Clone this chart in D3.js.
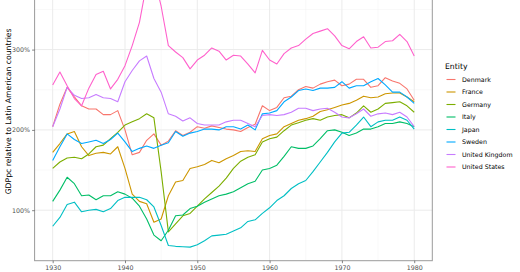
<!DOCTYPE html>
<html>
<head>
<meta charset="utf-8">
<script src="https://cdn.jsdelivr.net/npm/d3@7"></script>
<style>
  body { margin: 0; background: #fff; }
  svg { display: block; font-family: "DejaVu Sans", sans-serif; }
</style>
</head>
<body>
<div id="chart"></div>
<script>
var years = d3.range(1930, 1981);

var entities = ["Denmark", "France", "Germany", "Italy", "Japan", "Sweden", "United Kingdom", "United States"];
var colors = ["#F8766D", "#CD9600", "#7CAE00", "#00BE67", "#00BFC4", "#00A9FF", "#C77CFF", "#FF61CC"];

// GDP per capita relative to Latin America, % (1930..1980)
var denmark = [204, 232, 253, 241, 230, 226, 226, 219, 219, 224, 200, 169, 172, 187, 195, 181, 186, 199, 193, 197,
  204, 202, 205, 203, 201, 200, 198, 203, 207, 230, 224, 228, 240, 242, 250, 254, 252, 257, 260, 262,
  255, 257, 263, 263, 253, 255, 265, 261, 258, 251, 237];
var france = [172, 183, 195, 198, 179, 168, 171, 172, 170, 179, 152, 120, 111, 108, 85, 89, 118, 135, 137, 152,
  154, 157, 162, 159, 164, 168, 173, 174, 173, 189, 193, 195, 204, 208, 212, 214, 217, 223, 225, 228,
  231, 233, 237, 242, 240, 241, 245, 246, 246, 241, 235];
var germany = [152, 160, 165, 166, 164, 170, 179, 181, 189, 197, 206, 210, 214, 220, 215, 148, 73, 83, 93, 96,
  105, 114, 122, 130, 140, 152, 161, 166, 169, 185, 189, 191, 199, 206, 209, 212, 214, 212, 216, 218,
  219, 215, 221, 230, 222, 226, 233, 234, 235, 230, 222];
var italy = [111, 125, 141, 133, 118, 119, 113, 118, 118, 123, 120, 115, 105, 89, 69, 62, 75, 93, 94, 102,
  105, 110, 114, 118, 120, 123, 128, 133, 136, 150, 152, 156, 167, 179, 177, 177, 180, 189, 199, 200,
  197, 193, 196, 201, 201, 204, 208, 208, 210, 208, 204];
var japan = [80, 91, 107, 110, 98, 100, 101, 98, 102, 112, 116, 116, 116, 113, 104, 81, 56, 55, 54.5, 54,
  57, 62, 68, 69, 70, 74, 78, 86, 88, 96, 103, 112, 118, 127, 133, 137, 148, 160, 172, 185,
  196, 197, 206, 216, 204, 210, 212, 212, 216, 212, 201];
var sweden = [162, 179, 195, 188, 183, 185, 187, 183, 188, 196, 185, 173, 177, 180, 177, 181, 184, 198, 192, 196,
  198, 201, 201, 200, 204, 204, 201, 206, 200, 220, 221, 224, 235, 241, 249, 251, 249, 252, 252, 253,
  260, 252, 255, 255, 260, 264, 256, 247, 247, 241, 233];
var uk = [204, 226, 253, 243, 239, 240, 244, 240, 239, 235, 260, 274, 286, 292, 264, 247, 220, 217, 211, 215,
  208, 206, 206, 206, 210, 212, 212, 208, 204, 218, 219, 218, 219, 222, 227, 227, 224, 226, 227, 222,
  216, 215, 220, 226, 217, 220, 221, 219, 222, 216, 204];
var us = [256, 272, 255, 239, 230, 252, 269, 273, 251, 263, 280, 305, 334, 382, 392, 354, 305, 297, 290, 276,
  287, 293, 302, 298, 287, 293, 292, 282, 271, 299, 287, 282, 295, 302, 305, 313, 320, 323, 326, 317,
  305, 301, 310, 316, 302, 303, 310, 311, 319, 310, 292];

var seriesValues = [denmark, france, germany, italy, japan, sweden, uk, us];

var xTicks = [1930, 1940, 1950, 1960, 1970, 1980];
var xMinor = [1935, 1945, 1955, 1965, 1975];
var yTicks = [100, 200, 300];
var yMinor = [150, 250, 350];

var width = 520, height = 272;
var panel = {left: 34.6, right: 432.3, bottom: 260.7};
var pxPerPct = 0.803;

var series = entities.map(function(name, i) {
  return {name: name, color: colors[i], values: years.map(function(y, j) { return {year: y, value: seriesValues[i][j]}; })};
});

var all = d3.merge(seriesValues);
var lo = d3.min(all), hi = d3.max(all);
var pad = (hi - lo) * 0.05;
lo -= pad; hi += pad;
panel.top = panel.bottom - (hi - lo) * pxPerPct;

var x = d3.scaleLinear()
  .domain([1930 - 2.5, 1980 + 2.5])
  .range([panel.left, panel.right]);

var y = d3.scaleLinear()
  .domain([lo, hi])
  .range([panel.bottom, panel.top]);

var svg = d3.select("#chart").append("svg")
  .attr("width", width)
  .attr("height", height);

svg.append("defs").append("clipPath").attr("id", "clip")
  .append("rect")
  .attr("x", panel.left).attr("y", panel.top)
  .attr("width", panel.right - panel.left).attr("height", panel.bottom - panel.top);

var grid = svg.append("g");

grid.selectAll("line.xminor").data(xMinor).enter().append("line")
  .attr("x1", x).attr("x2", x)
  .attr("y1", panel.top).attr("y2", panel.bottom)
  .attr("stroke", "#f2f2f2").attr("stroke-width", 0.5);

grid.selectAll("line.yminor").data(yMinor).enter().append("line")
  .attr("y1", y).attr("y2", y)
  .attr("x1", panel.left).attr("x2", panel.right)
  .attr("stroke", "#f2f2f2").attr("stroke-width", 0.5);

grid.selectAll("line.xmajor").data(xTicks).enter().append("line")
  .attr("x1", x).attr("x2", x)
  .attr("y1", panel.top).attr("y2", panel.bottom)
  .attr("stroke", "#ebebeb").attr("stroke-width", 1);

grid.selectAll("line.ymajor").data(yTicks).enter().append("line")
  .attr("y1", y).attr("y2", y)
  .attr("x1", panel.left).attr("x2", panel.right)
  .attr("stroke", "#ebebeb").attr("stroke-width", 1);

var line = d3.line()
  .x(function(d) { return x(d.year); })
  .y(function(d) { return y(d.value); });

svg.append("g").attr("clip-path", "url(#clip)")
  .selectAll("path").data(series).enter().append("path")
  .attr("d", function(d) { return line(d.values); })
  .attr("fill", "none")
  .attr("stroke", function(d) { return d.color; })
  .attr("stroke-width", 1.1)
  .attr("stroke-linejoin", "round");

// panel border
svg.append("rect")
  .attr("x", panel.left).attr("y", panel.top)
  .attr("width", panel.right - panel.left).attr("height", panel.bottom - panel.top)
  .attr("fill", "none").attr("stroke", "#9a9a9a").attr("stroke-width", 1);

var xAxis = svg.append("g")
  .attr("transform", "translate(0," + panel.bottom + ")")
  .call(d3.axisBottom(x).tickValues(xTicks).tickFormat(d3.format("d")).tickSize(2.5).tickPadding(2));

var yAxis = svg.append("g")
  .attr("transform", "translate(" + panel.left + ",0)")
  .call(d3.axisLeft(y).tickValues(yTicks).tickFormat(function(d) { return d + "%"; }).tickSize(2.5).tickPadding(2));

[xAxis, yAxis].forEach(function(a) {
  a.select(".domain").remove();
  a.selectAll(".tick line").attr("stroke", "#333").attr("stroke-width", 0.6);
  a.selectAll(".tick text").attr("fill", "#4d4d4d").style("font-size", "6.3px").style("font-family", "DejaVu Sans");
});

svg.append("text")
  .attr("transform", "translate(11," + ((panel.top + panel.bottom) / 2) + ") rotate(-90)")
  .attr("text-anchor", "middle")
  .style("font-size", "7.7px")
  .attr("fill", "#000")
  .text("GDPpc relative to Latin American countries");

var legend = svg.append("g").attr("transform", "translate(445,0)");

legend.append("text")
  .attr("x", 0).attr("y", 69)
  .style("font-size", "7.7px")
  .text("Entity");

var item = legend.selectAll("g.item").data(series).enter().append("g")
  .attr("transform", function(d, i) { return "translate(0," + (79.5 + i * 12.5) + ")"; });

item.append("line")
  .attr("x1", 1.5).attr("x2", 10.5)
  .attr("stroke", function(d) { return d.color; })
  .attr("stroke-width", 1.1);

item.append("text")
  .attr("x", 17).attr("dy", "0.35em")
  .style("font-size", "6.3px")
  .text(function(d) { return d.name; });
</script>
</body>
</html>
